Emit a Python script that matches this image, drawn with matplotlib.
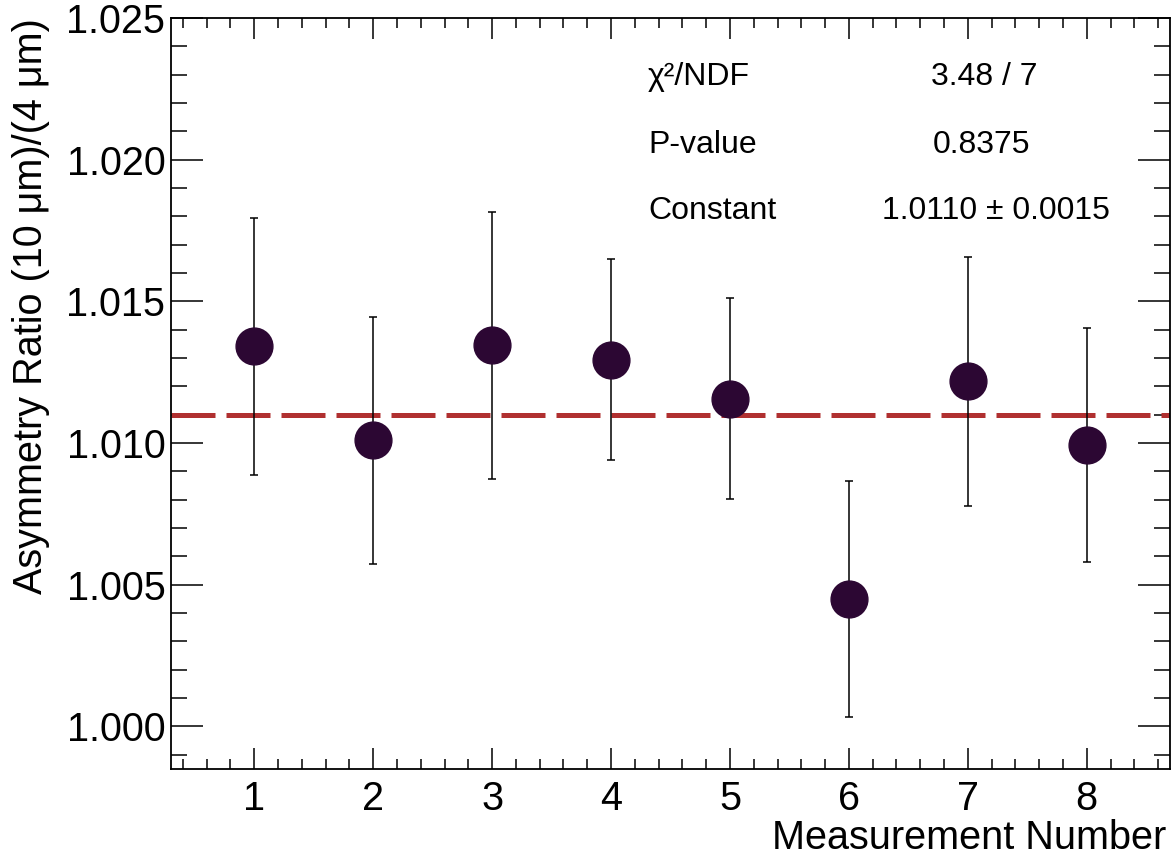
import matplotlib
matplotlib.use("Agg")
import matplotlib.pyplot as plt
from matplotlib.ticker import MultipleLocator, FixedLocator
import numpy as np

# Data
measurement = [1, 2, 3, 4, 5, 6, 7, 8]
ratio = [1.01341, 1.01010, 1.01345, 1.01294, 1.01157, 1.00450, 1.01218, 1.00993]
ratio_err = [0.00455, 0.00436, 0.00471, 0.00354, 0.00355, 0.00418, 0.00440, 0.00414]
fit_const = 1.0110
stat_names = ["χ²/NDF", "P-value", "Constant"]
stat_values = ["3.48 / 7", "0.8375", "1.0110 ± 0.0015"]

plt.rcParams['font.family'] = ['Liberation Sans', 'DejaVu Sans']

W, H = 1174, 856
fig = plt.figure(figsize=(W / 100, H / 100), dpi=100)
left, right, top, bottom = 171, 1170, 18, 769
ax = fig.add_axes([left / W, 1 - bottom / H, (right - left) / W, (bottom - top) / H])

ax.set_xlim(0.3, 8.7)
ax.set_ylim(0.9985, 1.025)

ax.axhline(fit_const, color='#b03030', lw=3.6, dashes=(8.8, 2.2), dash_capstyle='butt', zorder=2)

ax.errorbar(measurement, ratio, yerr=ratio_err, fmt='o', color='#2c0733', ecolor='black',
            elinewidth=1.1, capsize=2.6, capthick=1.1, markersize=26.5, zorder=3)

ax.xaxis.set_major_locator(FixedLocator(measurement))
ax.xaxis.set_minor_locator(MultipleLocator(0.2))
ax.yaxis.set_major_locator(MultipleLocator(0.005))
ax.yaxis.set_minor_locator(MultipleLocator(0.001))
ax.yaxis.set_major_formatter(matplotlib.ticker.FormatStrFormatter('%.3f'))

ax.tick_params(axis='both', which='both', direction='in', top=True, right=True,
               labelsize=28.5, width=1.1, colors='black')
ax.tick_params(axis='y', which='major', length=23, pad=4)
ax.tick_params(axis='y', which='minor', length=11.5)
ax.tick_params(axis='x', which='major', length=15, pad=8)
ax.tick_params(axis='x', which='minor', length=7.5)
for s in ax.spines.values():
    s.set_linewidth(1.3)

def ax_frac(px, py):
    return (px - left) / (right - left), 1 - (py - top) / (bottom - top)

ax.set_xlabel("Measurement Number", fontsize=28.5, loc='right')
ax.xaxis.set_label_coords(*ax_frac(1166, 819))
ax.set_ylabel("Asymmetry Ratio (10 μm)/(4 μm)", fontsize=28.5, loc='top', labelpad=12)

rows_y = [77, 145, 211]
val_x = [984, 982, 996]
for name, val, py, vx in zip(stat_names, stat_values, rows_y, val_x):
    x0, y0 = ax_frac(648, py)
    ax.text(x0, y0, name, transform=ax.transAxes, fontsize=23, ha='left', va='center')
    x1, _ = ax_frac(vx, py)
    ax.text(x1, y0, val, transform=ax.transAxes, fontsize=23, ha='center', va='center')

fig.savefig("out.png", dpi=100)
